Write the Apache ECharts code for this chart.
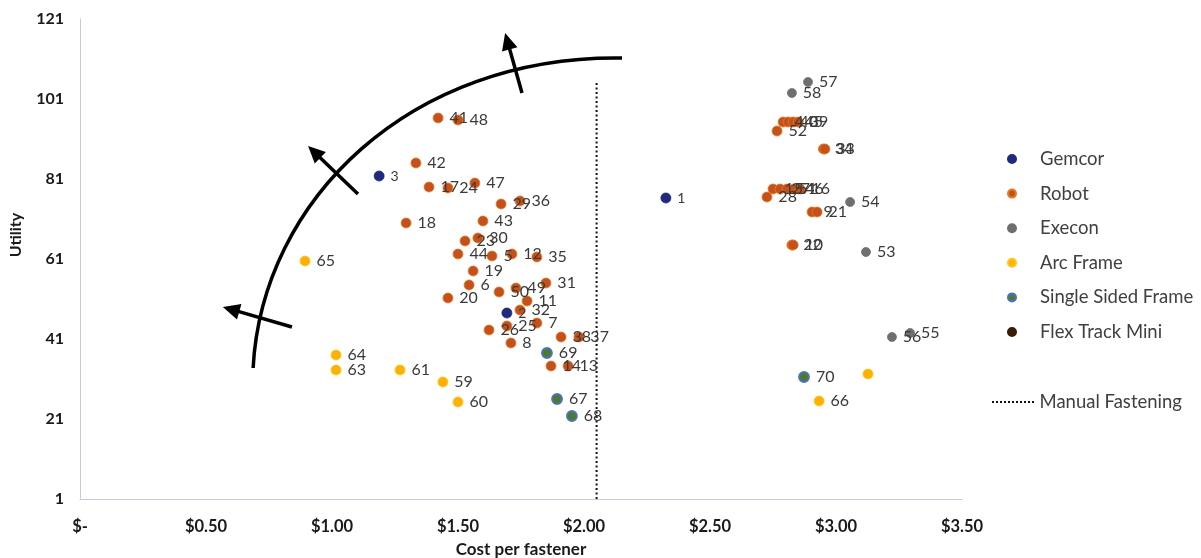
<!DOCTYPE html>
<html>
<head>
<meta charset="utf-8">
<script src="https://cdn.jsdelivr.net/npm/echarts@6/dist/echarts.min.js"></script>
<style>
  html, body { margin: 0; padding: 0; background: #ffffff; }
  #chart { width: 1201px; height: 558px; }
</style>
</head>
<body>
<div id="chart"></div>
<script>
// Each point: [concept id, cost per fastener ($), utility score]
const gemcor = [
  [1, 2.325, 76.25], [2, 1.694, 47.5], [3, 1.187, 81.75]
];
const robot = [
  [41, 1.421, 96.25], [48, 1.50, 95.75], [42, 1.333, 85], [17, 1.385, 79],
  [24, 1.46, 78.75], [47, 1.567, 80], [29, 1.671, 74.75], [36, 1.746, 75.5],
  [18, 1.294, 70], [43, 1.599, 70.5], [23, 1.528, 65.5], [30, 1.579, 66.25],
  [44, 1.50, 62.25], [5, 1.635, 61.75], [12, 1.714, 62.25], [35, 1.813, 61.5],
  [19, 1.56, 58], [6, 1.544, 54.5], [50, 1.663, 52.75], [20, 1.46, 51.25],
  [49, 1.73, 53.75], [31, 1.849, 55], [11, 1.774, 50.5], [32, 1.746, 48.25],
  [26, 1.623, 43.25], [25, 1.694, 44.25], [7, 1.813, 45], [8, 1.71, 40],
  [38, 1.909, 41.5], [37, 1.98, 41.5], [14, 1.869, 34.25], [13, 1.937, 34.25],
  [4, 2.79, 95.25], [40, 2.81, 95.25], [45, 2.83, 95.25], [39, 2.85, 95.25],
  [52, 2.766, 93], [34, 2.95, 88.5], [33, 2.956, 88.5],
  [15, 2.75, 78.5], [27, 2.778, 78.5], [51, 2.806, 78.5], [46, 2.833, 78.5], [16, 2.857, 78.5],
  [28, 2.726, 76.5], [9, 2.905, 72.75], [21, 2.925, 72.75],
  [22, 2.825, 64.5], [10, 2.83, 64.5]
];
const execon = [
  [53, 3.119, 62.75], [54, 3.056, 75.25], [55, 3.294, 42.5],
  [56, 3.222, 41.5], [57, 2.889, 105.25], [58, 2.825, 102.5]
];
const arcFrame = [
  [59, 1.44, 30.25], [60, 1.50, 25.25], [61, 1.27, 33.25], [62, 3.127, 32.25],
  [63, 1.016, 33.25], [64, 1.016, 37], [65, 0.893, 60.5], [66, 2.933, 25.5]
];
const singleSidedFrame = [
  [67, 1.893, 26], [68, 1.952, 21.75], [69, 1.853, 37.5], [70, 2.873, 31.5]
];
const flexTrackMini = [];
// concepts whose id is not printed beside the marker
const unlabeledIds = [62];

// manual fastening reference cost, drawn as a vertical dotted line
const manualFastening = [[2.05, 1], [2.05, 105]];

const costTickLabels = ['$-', '$0.50', '$1.00', '$1.50', '$2.00', '$2.50', '$3.00', '$3.50'];

// sketched efficiency frontier (cubic curve: start, control 1, control 2, end) in data units
const frontierCurve = [[0.687, 33.75], [0.722, 75.75], [1.310, 112], [2.151, 111.25]];
// arrows pushing outward across the frontier: [tail, tip]
const frontierArrows = [
  [[1.754, 102.5], [1.687, 117.5]],
  [[1.103, 77.25], [0.905, 89.25]],
  [[0.841, 44], [0.567, 49]]
];

const FONT = 'Lato, "Liberation Sans", sans-serif';

// legend swatch for the dotted reference line: a row of small square dots
const dottedIcon = 'path://' + Array.from({ length: 11 }, (_, i) => `M${i * 4},0h2v2h-2z`).join('');

function toData(points) {
  return points.map(([id, cost, util]) => ({
    name: String(id),
    value: [cost, util],
    label: unlabeledIds.includes(id) ? { show: false } : undefined
  }));
}

function scatter(name, points, style, labelSize) {
  return {
    type: 'scatter',
    name: name,
    data: toData(points),
    symbol: 'circle',
    symbolSize: style.size || 10,
    itemStyle: {
      color: style.color,
      borderColor: style.border || style.color,
      borderWidth: style.borderWidth || 0.8,
      opacity: 1
    },
    label: {
      show: true,
      position: 'right',
      distance: 6,
      formatter: '{b}',
      color: '#3a3a3a',
      fontFamily: FONT,
      fontSize: labelSize || 16
    },
    emphasis: { disabled: true }
  };
}

const legendText = { fontFamily: FONT, fontSize: 18.5, color: '#404040', lineHeight: 20 };

const chart = echarts.init(document.getElementById('chart'), null, { renderer: 'canvas' });

chart.setOption({
  animation: false,
  backgroundColor: '#ffffff',
  grid: { left: 80, right: 239, top: 19, bottom: 59, containLabel: false, outerBoundsMode: 'none' },
  xAxis: {
    type: 'value',
    min: 0, max: 3.5, interval: 0.5,
    name: 'Cost per fastener',
    nameLocation: 'middle',
    nameGap: 42,
    nameTextStyle: { fontFamily: FONT, fontSize: 17, fontWeight: 'bold', color: '#1a1a1a' },
    axisLine: { show: true, lineStyle: { color: '#c9c9dc', width: 1 } },
    axisTick: { show: false },
    splitLine: { show: false },
    axisLabel: {
      margin: 19,
      fontFamily: FONT, fontSize: 16.5, fontWeight: 'bold', color: '#1a1a1a',
      formatter: v => costTickLabels[Math.round(v / 0.5)]
    }
  },
  yAxis: {
    type: 'value',
    min: 1, max: 121, interval: 20,
    name: 'Utility',
    nameLocation: 'middle',
    nameRotate: 90,
    nameGap: 56,
    nameTextStyle: { fontFamily: FONT, fontSize: 16, fontWeight: 'bold', color: '#1a1a1a', padding: [0, 0, 0, 48] },
    axisLine: { show: true, lineStyle: { color: '#c9c9dc', width: 1 } },
    axisTick: { show: false },
    splitLine: { show: false },
    axisLabel: {
      margin: 16,
      fontFamily: FONT, fontSize: 16, fontWeight: 'bold', color: '#1a1a1a'
    }
  },
  legend: [
    {
      data: ['Gemcor', 'Robot', 'Execon', 'Arc Frame', 'Single Sided Frame', 'Flex Track Mini'],
      orient: 'vertical',
      left: 1002, top: 144,
      itemWidth: 46, itemHeight: 8,
      itemGap: 14.6,
      selectedMode: false,
      textStyle: legendText
    },
    {
      data: [{ name: 'Manual Fastening', icon: dottedIcon }],
      orient: 'vertical',
      left: 987, top: 387,
      itemWidth: 43, itemHeight: 2,
      selectedMode: false,
      textStyle: legendText
    }
  ],
  series: [
    scatter('Gemcor', gemcor, { color: '#1f2a7c' }, 14),
    scatter('Robot', robot, { color: '#c4501b', border: '#e57b22' }),
    scatter('Execon', execon, { color: '#6d7073', size: 9 }),
    scatter('Arc Frame', arcFrame, { color: '#ffb000', border: '#ffc61a' }),
    scatter('Single Sided Frame', singleSidedFrame, { color: '#4d7a2e', border: '#4a72c8', borderWidth: 1.8 }),
    scatter('Flex Track Mini', flexTrackMini, { color: '#3b1a08' }),
    {
      type: 'line',
      name: 'Manual Fastening',
      data: manualFastening,
      symbol: 'none',
      lineStyle: { color: '#111111', width: 2, type: [2, 2.5] },
      itemStyle: { color: '#111111' },
      emphasis: { disabled: true },
      z: 1
    }
  ]
});

// frontier annotation: curve plus three outward arrows, placed through the grid's scales
function drawFrontier() {
  const px = p => chart.convertToPixel({ gridIndex: 0 }, p);
  const [a, c1, c2, b] = frontierCurve.map(px);
  const els = [{
    type: 'bezierCurve',
    shape: { x1: a[0], y1: a[1], cpx1: c1[0], cpy1: c1[1], cpx2: c2[0], cpy2: c2[1], x2: b[0], y2: b[1] },
    style: { stroke: '#000000', lineWidth: 3.5, fill: 'none' },
    z: 10
  }];
  frontierArrows.forEach(([tail, tip]) => {
    const T = px(tail), H = px(tip);
    const dx = H[0] - T[0], dy = H[1] - T[1];
    const len = Math.hypot(dx, dy);
    const ux = dx / len, uy = dy / len, nx = -uy, ny = ux;
    const headLen = 17, headHalf = 8;
    const bx = H[0] - ux * headLen, by = H[1] - uy * headLen;
    els.push({
      type: 'line',
      shape: { x1: T[0], y1: T[1], x2: bx + ux * 2, y2: by + uy * 2 },
      style: { stroke: '#000000', lineWidth: 3.5 },
      z: 10
    });
    els.push({
      type: 'polygon',
      shape: { points: [H, [bx + nx * headHalf, by + ny * headHalf], [bx - nx * headHalf, by - ny * headHalf]] },
      style: { fill: '#000000' },
      z: 10
    });
  });
  chart.setOption({ graphic: els });
}
drawFrontier();
</script>
</body>
</html>
